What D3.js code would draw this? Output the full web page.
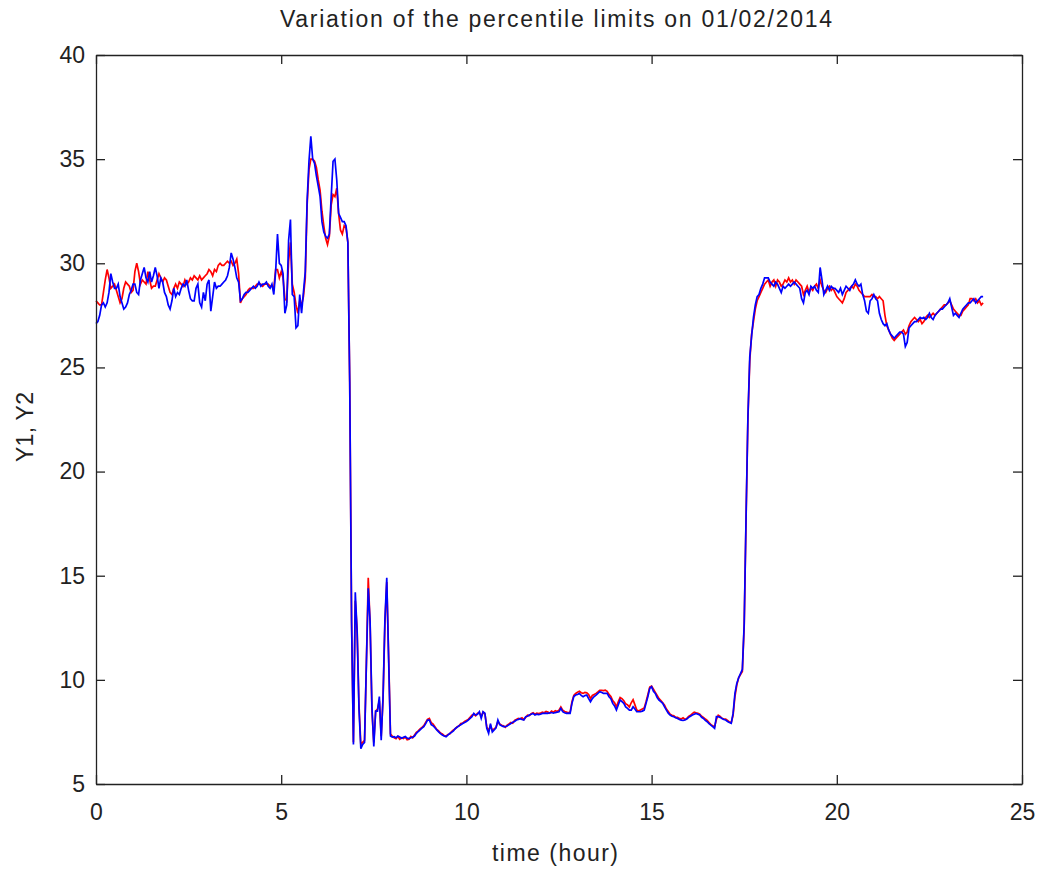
<!DOCTYPE html>
<html>
<head>
<meta charset="utf-8">
<script src="https://cdn.jsdelivr.net/npm/d3@7"></script>
<style>
  html, body { margin: 0; padding: 0; background: #fff; }
  svg { display: block; }
  text { font-family: "Liberation Sans", Arial, sans-serif; fill: #222; }
</style>
</head>
<body>
<svg id="chart" width="1043" height="871"></svg>
<script>
// Sampling: one value every 3 minutes (0.05 h), from 00:00 to 23:57.
const startHour = 0;
const stepHour = 0.05;

// Y1 (red) — one row per hour, 20 samples each
const y1Values = [
  28.2, 28.1, 28.0, 28.0, 28.6, 29.2, 29.7, 29.3, 28.8, 28.9, 29.0, 28.7, 28.4, 28.1, 28.3, 28.8, 29.1, 29.0, 28.9, 28.6,
  28.7, 29.6, 30.0, 29.6, 29.0, 29.2, 29.1, 29.0, 29.6, 29.2, 28.8, 28.9, 28.9, 29.2, 29.5, 29.3, 29.1, 29.3, 29.2, 28.9,
  28.6, 28.5, 28.8, 29.0, 28.8, 29.1, 29.0, 28.9, 29.2, 29.0, 29.1, 29.3, 29.2, 29.4, 29.3, 29.2, 29.4, 29.2, 29.3, 29.4,
  29.5, 29.7, 29.6, 29.4, 29.7, 29.6, 29.9, 30.0, 29.9, 29.9, 30.0, 30.1, 30.0, 30.1, 29.9, 30.0, 30.2, 29.5, 28.1, 28.3,
  28.4, 28.5, 28.7, 28.8, 28.8, 28.8, 28.9, 29.0, 29.0, 29.0, 28.9, 29.0, 29.0, 29.0, 28.9, 28.9, 28.8, 29.7, 29.7, 29.3,
  29.6, 29.3, 28.3, 28.2, 30.1, 31.0, 29.0, 28.6, 28.0, 27.6, 28.2, 28.0, 28.4, 29.3, 32.8, 34.5, 35.0, 35.0, 34.9, 34.6,
  34.0, 33.5, 32.5, 31.8, 31.2, 30.9, 31.3, 32.8, 33.3, 33.2, 33.6, 32.4, 31.6, 31.4, 31.8, 31.7, 31.0, 24.3, 12.8, 7.0,
  13.8, 12.4, 8.8, 6.9, 7.0, 7.1, 10.8, 14.9, 12.7, 8.5, 7.0, 8.5, 8.6, 9.0, 7.3, 9.1, 12.7, 14.7, 11.2, 7.4,
  7.30, 7.22, 7.18, 7.28, 7.15, 7.22, 7.18, 7.25, 7.12, 7.15, 7.28, 7.22, 7.35, 7.48, 7.55, 7.65, 7.72, 7.80, 7.95, 8.10,
  8.15, 7.95, 7.88, 7.75, 7.62, 7.55, 7.45, 7.40, 7.32, 7.30, 7.38, 7.40, 7.52, 7.60, 7.65, 7.75, 7.78, 7.90, 7.92, 8.00,
  8.05, 8.10, 8.20, 8.30, 8.35, 8.28, 8.40, 8.42, 8.25, 8.45, 8.35, 7.75, 7.55, 7.80, 7.58, 7.65, 7.72, 8.00, 7.88, 7.82,
  7.80, 7.72, 7.82, 7.88, 7.95, 7.92, 8.05, 8.10, 8.15, 8.12, 8.18, 8.10, 8.20, 8.30, 8.28, 8.38, 8.42, 8.35, 8.40, 8.38,
  8.40, 8.45, 8.42, 8.48, 8.45, 8.40, 8.50, 8.45, 8.52, 8.48, 8.55, 8.70, 8.55, 8.48, 8.45, 8.42, 8.45, 8.95, 9.25, 9.35,
  9.40, 9.45, 9.38, 9.35, 9.40, 9.38, 9.30, 9.10, 9.25, 9.30, 9.35, 9.42, 9.50, 9.50, 9.48, 9.50, 9.45, 9.30, 9.20, 9.00,
  8.90, 8.70, 8.95, 9.15, 9.10, 9.00, 8.85, 8.80, 8.70, 8.90, 9.05, 8.80, 8.55, 8.50, 8.55, 8.60, 8.65, 8.95, 9.30, 9.65,
  9.70, 9.55, 9.40, 9.25, 9.10, 9.00, 8.90, 8.78, 8.60, 8.48, 8.35, 8.30, 8.28, 8.20, 8.20, 8.15, 8.12, 8.18, 8.10, 8.15,
  8.25, 8.30, 8.38, 8.45, 8.42, 8.40, 8.35, 8.25, 8.20, 8.12, 8.05, 7.95, 7.85, 7.80, 7.75, 8.10, 8.30, 8.25, 8.15, 8.12,
  8.12, 8.05, 7.98, 7.95, 8.30, 9.20, 9.75, 10.10, 10.25, 10.40, 12.60, 17.70, 22.50, 25.30, 26.60, 27.20, 27.80, 28.20, 28.40, 28.60,
  28.8, 29.0, 29.1, 29.2, 28.9, 29.1, 29.2, 28.9, 29.2, 29.1, 28.9, 29.0, 29.2, 29.1, 29.3, 29.1, 29.2, 29.0, 29.2, 29.1,
  29.0, 28.9, 28.5, 28.7, 28.9, 28.6, 28.8, 28.7, 28.9, 29.0, 28.8, 29.2, 28.9, 28.7, 28.6, 28.8, 28.9, 28.7, 28.8, 28.6,
  28.4, 28.3, 28.2, 28.1, 28.3, 28.6, 28.7, 28.8, 28.9, 28.8, 29.0, 28.9, 28.7, 28.6, 28.5, 28.4, 28.4, 28.4, 28.4, 28.5,
  28.4, 28.4, 28.3, 28.4, 28.3, 28.2, 27.5, 27.0, 26.8, 26.6, 26.4, 26.3, 26.4, 26.5, 26.6, 26.7, 26.8, 26.6, 26.7, 27.0,
  27.2, 27.3, 27.4, 27.3, 27.2, 27.3, 27.1, 27.2, 27.4, 27.5, 27.4, 27.5, 27.6, 27.5, 27.6, 27.7, 27.8, 27.9, 28.0, 28.0,
  28.1, 28.2, 28.0, 27.8, 27.7, 27.6, 27.5, 27.5, 27.7, 27.8, 27.9, 28.0, 28.3, 28.3, 28.2, 28.3, 28.1, 28.2, 28.0, 28.1
];

// Y2 (blue) — same sampling
const y2Values = [
  27.1, 27.2, 27.5, 28.0, 28.1, 27.9, 28.1, 28.6, 29.5, 29.1, 28.8, 28.8, 29.0, 28.4, 28.1, 27.8, 27.9, 28.1, 28.5, 28.7,
  29.0, 29.0, 28.6, 28.5, 29.2, 29.5, 29.8, 29.3, 29.1, 29.6, 29.1, 29.4, 29.8, 29.4, 28.8, 29.3, 29.1, 28.6, 28.4, 28.0,
  27.8, 28.2, 28.8, 28.4, 28.6, 28.5, 28.8, 29.0, 28.9, 29.2, 28.7, 28.3, 28.2, 28.2, 28.8, 29.0, 28.1, 27.9, 28.6, 28.2,
  29.0, 29.2, 27.7, 28.4, 29.1, 28.8, 28.9, 28.9, 29.0, 29.1, 29.2, 29.4, 29.8, 30.5, 30.2, 29.8, 29.3, 29.1, 28.2, 28.3,
  28.5, 28.6, 28.6, 28.7, 28.8, 28.9, 28.8, 28.9, 29.1, 28.9, 29.0, 29.0, 29.1, 28.9, 28.8, 29.0, 28.5, 29.6, 31.4, 30.0,
  29.9, 29.5, 27.6, 28.0, 31.1, 32.1, 28.5, 28.4, 26.9, 27.0, 28.5, 27.6, 28.6, 29.6, 33.0, 34.9, 36.1, 35.0, 34.8, 34.2,
  33.7, 33.2, 32.0, 31.5, 31.3, 31.2, 31.4, 33.2, 34.9, 35.0, 34.0, 32.4, 32.2, 32.0, 32.0, 31.8, 31.0, 24.3, 12.8, 6.9,
  14.2, 12.3, 8.6, 6.7, 6.9, 7.0, 10.8, 14.4, 12.8, 8.7, 6.8, 8.5, 8.5, 9.2, 7.1, 9.2, 12.9, 14.9, 11.0, 7.3,
  7.25, 7.27, 7.22, 7.30, 7.26, 7.20, 7.24, 7.28, 7.20, 7.18, 7.22, 7.25, 7.30, 7.43, 7.52, 7.60, 7.68, 7.75, 7.90, 8.07,
  8.07, 7.85, 7.80, 7.70, 7.60, 7.50, 7.42, 7.35, 7.30, 7.27, 7.35, 7.43, 7.48, 7.55, 7.67, 7.72, 7.80, 7.85, 7.90, 7.95,
  8.00, 8.07, 8.15, 8.23, 8.39, 8.31, 8.35, 8.47, 8.15, 8.47, 8.40, 7.67, 7.43, 7.90, 7.50, 7.59, 7.70, 8.07, 7.85, 7.80,
  7.75, 7.75, 7.78, 7.85, 7.90, 7.97, 8.00, 8.07, 8.10, 8.15, 8.10, 8.07, 8.23, 8.25, 8.31, 8.35, 8.39, 8.31, 8.35, 8.33,
  8.35, 8.39, 8.39, 8.40, 8.39, 8.42, 8.43, 8.40, 8.43, 8.45, 8.47, 8.63, 8.47, 8.42, 8.39, 8.40, 8.39, 8.87, 9.20, 9.27,
  9.30, 9.35, 9.25, 9.19, 9.25, 9.27, 9.10, 8.95, 9.10, 9.20, 9.27, 9.35, 9.43, 9.40, 9.35, 9.35, 9.35, 9.19, 9.10, 8.87,
  8.75, 8.55, 8.80, 9.03, 8.95, 8.87, 8.70, 8.63, 8.55, 8.55, 8.71, 8.60, 8.47, 8.47, 8.47, 8.50, 8.55, 8.87, 9.20, 9.59,
  9.67, 9.45, 9.35, 9.15, 9.03, 8.95, 8.87, 8.70, 8.55, 8.40, 8.31, 8.25, 8.23, 8.18, 8.15, 8.10, 8.07, 8.05, 8.07, 8.12,
  8.20, 8.25, 8.31, 8.35, 8.39, 8.35, 8.31, 8.20, 8.15, 8.05, 7.99, 7.90, 7.83, 7.75, 7.67, 8.23, 8.23, 8.20, 8.15, 8.10,
  8.07, 8.00, 7.95, 7.91, 8.39, 9.35, 9.83, 10.10, 10.30, 10.50, 12.70, 17.80, 22.60, 25.50, 26.50, 27.40, 28.00, 28.40, 28.50, 28.80,
  29.0, 29.3, 29.3, 29.3, 29.1, 29.0, 28.9, 29.1, 29.0, 28.8, 28.6, 28.9, 28.8, 28.9, 29.0, 28.9, 29.0, 29.1, 29.0, 28.9,
  28.8, 28.3, 28.1, 28.6, 28.7, 28.5, 28.9, 28.8, 28.9, 28.7, 28.6, 29.8, 29.2, 28.5, 28.7, 28.9, 28.7, 28.9, 28.8, 28.8,
  28.7, 28.6, 28.8, 28.5, 28.7, 28.9, 28.8, 28.7, 28.9, 29.0, 29.2, 29.0, 28.9, 29.0, 28.5, 28.2, 27.7, 27.6, 28.2, 28.3,
  28.5, 28.3, 28.2, 27.6, 27.3, 27.1, 27.0, 27.1, 26.8, 26.6, 26.5, 26.4, 26.5, 26.6, 26.7, 26.7, 26.6, 26.0, 26.2, 26.9,
  27.0, 27.1, 27.2, 27.2, 27.3, 27.4, 27.35, 27.4, 27.3, 27.4, 27.6, 27.4, 27.3, 27.5, 27.6, 27.7, 27.8, 27.8, 27.9, 28.0,
  28.1, 28.3, 27.9, 27.5, 27.6, 27.5, 27.4, 27.6, 27.8, 27.9, 28.0, 28.1, 28.1, 28.2, 28.3, 28.1, 28.2, 28.3, 28.4, 28.4
];

// Axis ticks
const xTicks = [0, 5, 10, 15, 20, 25];
const yTicks = [5, 10, 15, 20, 25, 30, 35, 40];

const titleText = "Variation of the percentile limits on 01/02/2014";
const xLabelText = "time (hour)";
const yLabelText = "Y1, Y2";

const svg = d3.select("#chart");
svg.append("rect").attr("width", 1043).attr("height", 871).attr("fill", "#fff");

const plot = { left: 96, right: 1022, top: 55, bottom: 784 };

const x = d3.scaleLinear().domain([0, 25]).range([plot.left, plot.right]);
const y = d3.scaleLinear().domain([5, 40]).range([plot.bottom, plot.top]);

const hours = y1Values.map((_, i) => startHour + i * stepHour);
const line = d3.line()
  .x((d, i) => x(hours[i]))
  .y(d => y(d));

const lines = svg.append("g");
lines.append("path")
  .datum(y1Values)
  .attr("fill", "none")
  .attr("stroke", "#ff0000")
  .attr("stroke-width", 1.7)
  .attr("stroke-linejoin", "miter")
  .attr("d", line);
lines.append("path")
  .datum(y2Values)
  .attr("fill", "none")
  .attr("stroke", "#0000ff")
  .attr("stroke-width", 1.7)
  .attr("stroke-linejoin", "miter")
  .attr("d", line);

// Axes: ticks pointing inward on all four sides, labels on bottom and left
const fontSize = 23;
const tickLen = 9;

function styleAxis(g) {
  g.selectAll(".domain").attr("stroke", "#222").attr("stroke-width", 1.3).attr("fill", "none");
  g.selectAll(".tick line").attr("stroke", "#222").attr("stroke-width", 1.3);
  g.selectAll("text").attr("font-size", fontSize).attr("font-family", "Liberation Sans, Arial, sans-serif").attr("fill", "#222");
}

svg.append("g")
  .attr("transform", `translate(0,${plot.bottom})`)
  .call(d3.axisBottom(x).tickValues(xTicks).tickSizeInner(-tickLen).tickSizeOuter(0).tickPadding(20).tickFormat(d3.format("d")))
  .call(styleAxis);
svg.append("g")
  .attr("transform", `translate(0,${plot.top})`)
  .call(d3.axisTop(x).tickValues(xTicks).tickSizeInner(-tickLen).tickSizeOuter(0).tickFormat(""))
  .call(styleAxis);
svg.append("g")
  .attr("transform", `translate(${plot.left},0)`)
  .call(d3.axisLeft(y).tickValues(yTicks).tickSizeInner(-tickLen).tickSizeOuter(0).tickPadding(11).tickFormat(d3.format("d")))
  .call(styleAxis);
svg.append("g")
  .attr("transform", `translate(${plot.right},0)`)
  .call(d3.axisRight(y).tickValues(yTicks).tickSizeInner(-tickLen).tickSizeOuter(0).tickFormat(""))
  .call(styleAxis);

// Title and axis labels
svg.append("text")
  .attr("x", 556)
  .attr("y", 27)
  .attr("text-anchor", "middle")
  .attr("font-size", fontSize)
  .attr("textLength", 552)
  .attr("lengthAdjust", "spacing")
  .text(titleText);

svg.append("text")
  .attr("x", 555)
  .attr("y", 861)
  .attr("text-anchor", "middle")
  .attr("font-size", fontSize)
  .attr("textLength", 126)
  .attr("lengthAdjust", "spacing")
  .text(xLabelText);

svg.append("text")
  .attr("transform", `translate(33,427) rotate(-90)`)
  .attr("text-anchor", "middle")
  .attr("font-size", fontSize)
  .attr("textLength", 70)
  .attr("lengthAdjust", "spacing")
  .text(yLabelText);
</script>
</body>
</html>
